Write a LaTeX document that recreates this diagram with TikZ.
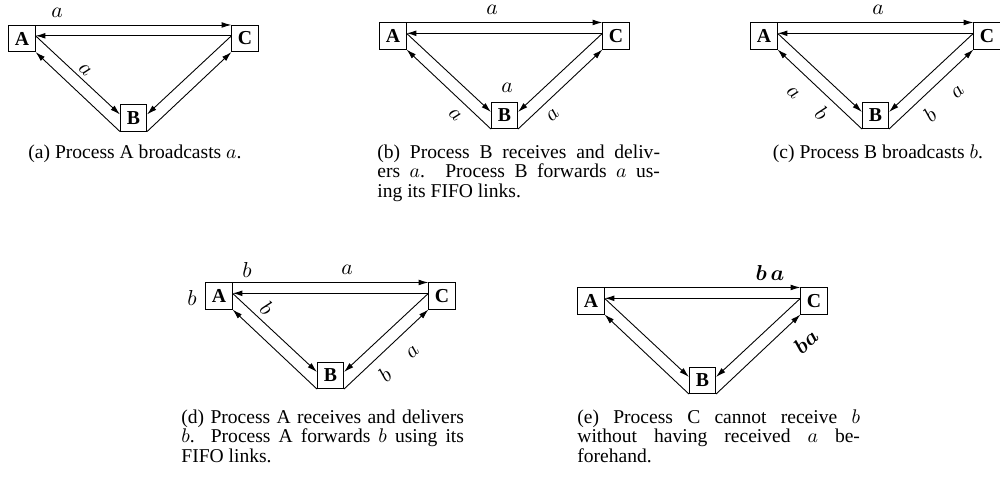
\documentclass[tikz,border=0pt]{standalone}
\usepackage{fontspec}
\usepackage{bm}
\newfontfamily\boxfont{Liberation Serif}
\newfontfamily\capfont{Liberation Serif}
\usetikzlibrary{arrows.meta,calc}
\tikzset{
  proc/.style={draw, line width=0.5pt, minimum width=13.2pt, minimum height=13.2pt, inner sep=0pt,
    font=\boxfont\bfseries\fontsize{10}{10}\selectfont},
  msg/.style={-{Latex[length=5pt,width=2.9pt]}, line width=0.45pt},
  lab/.style={font=\fontsize{10.5}{11}\selectfont, inner sep=0pt},
  captext/.style={font=\capfont\fontsize{9.9}{10}\selectfont, inner sep=0pt}
}
\newcommand\mypanel[3]{%
  \node[proc] (A#1) at (#2+13,#3+13) {A};
  \node[proc] (C#1) at (#2+236,#3+13) {C};
  \node[proc] (B#1) at (#2+124.5,#3+92.5) {B};
  \coordinate (Ae#1) at ($(A#1.north east)!0.4!(A#1.south east)$);
  \coordinate (Cw#1) at ($(C#1.north west)!0.4!(C#1.south west)$);
  \coordinate (Bw#1) at ($(B#1.north west)!0.37!(B#1.south west)$);
  \coordinate (Be#1) at ($(B#1.north east)!0.37!(B#1.south east)$);
  \draw[msg] (A#1.north east) -- (C#1.north west);
  \draw[msg] (Cw#1) -- (Ae#1);
  \draw[msg] (Ae#1) -- (Bw#1);
  \draw[msg] (B#1.south west) -- (A#1.south east);
  \draw[msg] (Cw#1) -- (Be#1);
  \draw[msg] (B#1.south east) -- (C#1.south west);
}
\newcommand\capline[1]{\hbox to 143pt{#1}}
\begin{document}
\begin{tikzpicture}[x=0.506pt,y=-0.506pt]
\useasboundingbox (0,0) rectangle (1000,482);
% (a)
\mypanel{a}{9}{25.5}
\node[lab] (la1) at (57,13) {$a$};
\node[lab,rotate=-43] (la2) at (85,70) {$a$};
\node[captext,anchor=base] (capa) at (135,158) {(a) Process A broadcasts $a$.};
% (b)
\mypanel{b}{380}{23}
\node[lab] (lb1) at (492,10) {$a$};
\node[lab] (lb2) at (507,88) {$a$};
\node[lab,rotate=-43] (lb3) at (455,115) {$a$};
\node[lab,rotate=43] (lb4) at (553,115) {$a$};
\node[captext,anchor=base west] (capb) at (377,158) {\parbox[t]{143pt}{%
  \capline{(b) Process B receives and deliv-}%
  \capline{ers $a$. Process B forwards $a$ us-}%
  \hbox{ing its FIFO links.}}};
% (c)
\mypanel{c}{751}{23}
\node[lab] (lc1) at (878,10) {$a$};
\node[lab,rotate=-43] (lc2) at (793,93) {$a$};
\node[lab,rotate=-43] (lc3) at (822,113) {$b$};
\node[lab,rotate=43] (lc4) at (930,115) {$b$};
\node[lab,rotate=43] (lc5) at (958,92) {$a$};
\node[captext,anchor=base] (capc) at (878,158) {(c) Process B broadcasts $b$.};
% (d)
\mypanel{d}{206}{283}
\node[lab] (ld1) at (192,298) {$b$};
\node[lab] (ld2) at (247,270) {$b$};
\node[lab] (ld3) at (347,270) {$a$};
\node[lab,rotate=-43] (ld4) at (267,308) {$b$};
\node[lab,rotate=43] (ld5) at (413,352) {$a$};
\node[lab,rotate=43] (ld6) at (385,375) {$b$};
\node[captext,anchor=base west] (capd) at (181,423) {\parbox[t]{143pt}{%
  \capline{(d) Process A receives and delivers}%
  \capline{$b$. Process A forwards $b$ using its}%
  \hbox{FIFO links.}}};
% (e)
\mypanel{e}{578}{288}
\node[lab] (le1) at (770,273) {$\bm{b\,a}$};
\node[lab,rotate=43] (le2) at (806,341) {$\bm{ba}$};
\node[captext,anchor=base west] (cape) at (577,423) {\parbox[t]{143pt}{%
  \capline{(e) Process C cannot receive $b$}%
  \capline{without having received $a$ be-}%
  \hbox{forehand.}}};
\end{tikzpicture}
\end{document}
